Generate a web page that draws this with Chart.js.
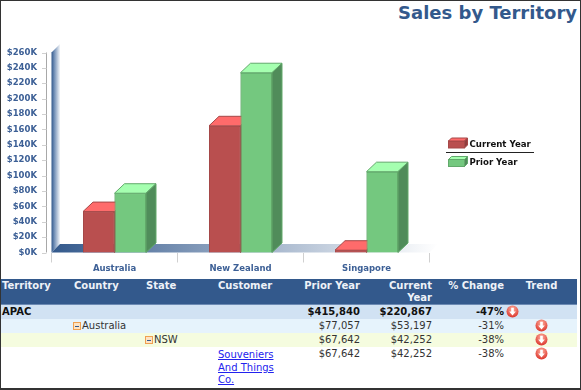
<!DOCTYPE html>
<html lang="en">

<head>
    <meta charset="UTF-8">
    <title>Sales by Territory</title>
    <script src="https://cdn.jsdelivr.net/npm/chart.js"></script>
    <style>
        html, body { margin: 0; padding: 0; background: #fff; }
        #frame { position: absolute; left: 0; top: 0; width: 581px; height: 390px; overflow: hidden; box-sizing: border-box;
                 border: 1px solid #333; border-bottom-width: 2px; font-family: "DejaVu Sans", sans-serif; }
        #title { position: absolute; right: 3px; top: 1px; margin: 0; font-size: 18px; line-height: 22px; font-weight: bold; color: #33598c; }
        #chartBox { position: absolute; left: -1px; top: -1px; width: 581px; height: 278px; }
        table { position: absolute; left: 0; top: 278px; width: 576px; border-collapse: collapse; table-layout: fixed; font-size: 10px; color: #333; }
        th { background: #33598c; color: #eef2f8; height: 25px; padding: 1px 0 0 1px; line-height: 12px; vertical-align: top; text-align: left; border-bottom: 1px solid #6c8ab3; box-sizing: border-box; }
        td { height: 14px; padding: 0 0 0 1px; line-height: 14px; vertical-align: top; white-space: nowrap; box-sizing: border-box; }
        th.num, td.num { text-align: right; padding-right: 1px; }
        th.mid, td.mid { text-align: center; }
        tr.apac td { background: #d1e2f3; font-weight: bold; color: #111; }
        tr.country td { background: #e6f3fc; }
        tr.state td { background: #f5fcdf; }
        td a { color: #2222ee; display: block; white-space: normal; line-height: 12.5px; margin-top: 2px; }
        .minus { display: inline-block; width: 6px; height: 6px; margin-left: -1px; margin-right: 1px; border: 1px solid #f0a050; background: #fde3c4; position: relative; vertical-align: -1px; }
        .minus::after { content: ""; position: absolute; left: 1px; right: 1px; top: 2.5px; height: 1px; background: #33598c; }
        svg { display: inline-block; vertical-align: top; }
    </style>
</head>

<body>
    <div id="frame">
        <h1 id="title">Sales by Territory</h1>
        <div id="chartBox"><canvas id="salesChart" width="581" height="278"></canvas></div>
        <table id="detail"></table>
    </div>

    <script>
        const countries = ["Australia", "New Zealand", "Singapore"];
        const currentYear = [53197, 164700, 2970];
        const priorYear = [77057, 233700, 105083];

        const headers = ["Territory", "Country", "State", "Customer", "Prior Year", "Current Year", "% Change", "Trend"];
        const rowClasses = ["apac", "country", "state", "customer"];
        const rowNames = ["APAC", "Australia", "NSW", "Souveniers And Things Co."];
        const rowPrior = ["$415,840", "$77,057", "$67,642", "$67,642"];
        const rowCurrent = ["$220,867", "$53,197", "$42,252", "$42,252"];
        const rowChange = ["-47%", "-31%", "-38%", "-38%"];

        const DEPTH_X = 10, DEPTH_Y = 9.5;
        const arrow = '<svg width="13" height="13" viewBox="0 0 13 13"><defs><radialGradient id="g" cx="50%" cy="30%" r="75%"><stop offset="0" stop-color="#ffb0a0"/><stop offset="1" stop-color="#d92b22"/></radialGradient></defs><circle cx="6.5" cy="6.5" r="6" fill="url(#g)"/><path d="M5.2 2.8h2.6v3.6h2L6.5 10.4 3.2 6.4h2z" fill="#fff"/></svg>';

        // table under the chart
        let html = "<colgroup>" + headers.map(() => '<col style="width:72px">').join("") + "</colgroup><tr>";
        headers.forEach((h, i) => {
            const cls = i >= 4 && i <= 6 ? "num" : i == 7 ? "mid" : "";
            html += `<th class="${cls}">${h}</th>`;
        });
        html += "</tr>";
        rowNames.forEach((name, i) => {
            const minus = '<span class="minus"></span>';
            const cells = [
                i == 0 ? name : "",
                i == 1 ? minus + name : "",
                i == 2 ? minus + name : "",
                i == 3 ? `<a href="#">${name}</a>` : ""
            ];
            html += `<tr class="${rowClasses[i]}">` + cells.map(c => `<td>${c}</td>`).join("");
            html += `<td class="num">${rowPrior[i]}</td><td class="num">${rowCurrent[i]}</td><td class="num">${rowChange[i]}</td>`;
            html += i == 0 ? `<td>${arrow}</td>` : `<td class="mid">${arrow}</td>`;
            html += "</tr>";
        });
        document.getElementById("detail").innerHTML = html;

        // walls, 3D faces and the legend are drawn on top of the normal chart scales
        const box3d = {
            id: "box3d",
            beforeDatasetsDraw(chart) {
                const { ctx, chartArea: a, scales: { y } } = chart;
                ctx.save();
                // y axis line and ticks sit a little left of the wall
                ctx.strokeStyle = "#a8a8a8";
                ctx.beginPath();
                ctx.moveTo(a.left - 5, a.top);
                ctx.lineTo(a.left - 5, a.bottom);
                ctx.stroke();
                ctx.strokeStyle = "#d0d0d0";
                y.ticks.forEach(t => {
                    const py = Math.round(y.getPixelForValue(t.value)) + 0.5;
                    ctx.beginPath();
                    ctx.moveTo(a.left - 9.5, py);
                    ctx.lineTo(a.left - 5, py);
                    ctx.stroke();
                });
                // left wall
                let g = ctx.createLinearGradient(a.left, 0, a.left + 9, 0);
                g.addColorStop(0, "#33598c");
                g.addColorStop(0.3, "#6f8db5");
                g.addColorStop(1, "#ffffff");
                ctx.fillStyle = g;
                ctx.beginPath();
                ctx.moveTo(a.left, a.bottom);
                ctx.lineTo(a.left + 8.5, a.bottom - 8.5);
                ctx.lineTo(a.left + 8.5, a.top - 8.5);
                ctx.lineTo(a.left, a.top);
                ctx.fill();
                // floor
                g = ctx.createLinearGradient(a.left, 0, a.right + 8.5, 0);
                g.addColorStop(0, "#33598c");
                g.addColorStop(1, "#ffffff");
                ctx.fillStyle = g;
                ctx.beginPath();
                ctx.moveTo(a.left, a.bottom);
                ctx.lineTo(a.left + 8.5, a.bottom - 8.5);
                ctx.lineTo(a.right + 8.5, a.bottom - 8.5);
                ctx.lineTo(a.right, a.bottom);
                ctx.fill();
                ctx.restore();
            },
            afterDatasetsDraw(chart) {
                // red first, then green over it, so the green front hides the red side
                const { ctx } = chart;
                chart.data.datasets.forEach((ds, i) => {
                    chart.getDatasetMeta(i).data.forEach(bar => {
                        bar.draw(ctx);
                        faces(ctx, bar.x - bar.width / 2, bar.y, bar.width, bar.base - bar.y, ds);
                    });
                });
            },
            afterDraw(chart) {
                const { ctx } = chart;
                ctx.save();
                ctx.strokeStyle = "#222";
                ctx.beginPath();
                ctx.moveTo(446, 152.5);
                ctx.lineTo(534, 152.5);
                ctx.stroke();
                ctx.font = "bold 8.6px 'DejaVu Sans'";
                ctx.textBaseline = "middle";
                chart.data.datasets.forEach((ds, i) => {
                    const top = i == 0 ? 141 : 159.5;
                    ctx.fillStyle = ds.backgroundColor;
                    ctx.strokeStyle = ds.borderColor;
                    ctx.lineWidth = 1;
                    ctx.fillRect(448.5, top, 16, 7);
                    ctx.strokeRect(448.5, top, 16, 7);
                    faces(ctx, 448.5, top, 16, 7, ds, 3, 3);
                    ctx.fillStyle = "#111";
                    ctx.fillText(ds.label, 469.5, i == 0 ? 144.5 : 162.5);
                });
                ctx.restore();
            }
        };

        function faces(ctx, x, y, w, h, ds, dx = DEPTH_X, dy = DEPTH_Y) {
            ctx.save();
            ctx.lineWidth = 1;
            ctx.strokeStyle = ds.borderColor;
            ctx.fillStyle = ds.topColor;
            ctx.beginPath();
            ctx.moveTo(x, y);
            ctx.lineTo(x + dx, y - dy);
            ctx.lineTo(x + w + dx, y - dy);
            ctx.lineTo(x + w, y);
            ctx.closePath();
            ctx.fill();
            ctx.stroke();
            ctx.fillStyle = ds.sideColor;
            ctx.beginPath();
            ctx.moveTo(x + w, y);
            ctx.lineTo(x + w + dx, y - dy);
            ctx.lineTo(x + w + dx, y + h - dy);
            ctx.lineTo(x + w, y + h);
            ctx.closePath();
            ctx.fill();
            ctx.stroke();
            ctx.restore();
        }

        new Chart(document.getElementById("salesChart"), {
            type: "bar",
            data: {
                labels: countries,
                datasets: [
                    { label: "Current Year", data: currentYear, backgroundColor: "#b94f4f", borderColor: "#a54848", topColor: "#ff6b6b", sideColor: "#8f3d3d" },
                    { label: "Prior Year", data: priorYear, backgroundColor: "#74c87f", borderColor: "#62a96b", topColor: "#a5ffb0", sideColor: "#508c5a" }
                ]
            },
            plugins: [box3d],
            options: {
                responsive: false,
                animation: false,
                layout: { padding: { top: 52.5, right: 151.5, bottom: 0, left: 0 } },
                categoryPercentage: 0.5,
                barPercentage: 1,
                borderWidth: 1,
                plugins: { legend: { display: false }, tooltip: { enabled: false } },
                scales: {
                    x: {
                        afterFit: s => { s.height = 25.5; },
                        border: { display: false },
                        grid: { drawOnChartArea: false, tickLength: 10, color: "#d0d0d0" },
                        ticks: { padding: 1, color: "#3d6096", font: { family: "DejaVu Sans", size: 8.5, weight: "bold" } }
                    },
                    y: {
                        min: 0,
                        max: 260000,
                        afterFit: s => { s.width = 51.5; },
                        border: { display: false },
                        grid: { display: false },
                        ticks: {
                            stepSize: 20000,
                            autoSkip: false,
                            padding: 6.5,
                            color: "#3d6096",
                            font: { family: "DejaVu Sans", size: 8.5, weight: "bold" },
                            callback: v => "$" + v / 1000 + "K"
                        }
                    }
                }
            }
        });
    </script>
</body>

</html>
